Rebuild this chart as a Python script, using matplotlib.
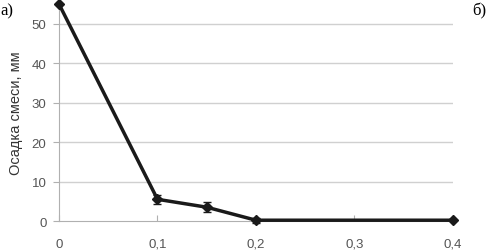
import matplotlib
matplotlib.use('Agg')
import matplotlib.pyplot as plt
from matplotlib import font_manager

# данные
x_vals = [0, 0.1, 0.15, 0.2, 0.4]
y_vals = [55, 5.5, 3.5, 0.2, 0.2]
y_err = [0, 1.2, 1.2, 0.6, 0]
x_ticks = [0, 0.1, 0.2, 0.3, 0.4]
x_tick_labels = ['0', '0,1', '0,2', '0,3', '0,4']
y_ticks = [0, 10, 20, 30, 40, 50]

# берём обычный Liberation Sans, а не Narrow
sans = 'DejaVu Sans'
for f in font_manager.fontManager.ttflist:
    if f.fname.endswith('LiberationSans-Regular.ttf'):
        font_manager.fontManager.addfont(f.fname)
        sans = f.name
        break
plt.rcParams['font.family'] = [sans, 'DejaVu Sans']

fig = plt.figure(figsize=(4.94, 2.51), dpi=100)
ax = fig.add_axes([0.1194, 0.1155, 0.7976, 0.8645])

for yt in y_ticks[1:]:
    ax.axhline(yt, color='#d0d0d0', lw=1.0, zorder=1)

ax.errorbar(x_vals, y_vals, yerr=y_err, color='#1a1a1a', lw=2.5, marker='D',
            markersize=5, ecolor='#1a1a1a', elinewidth=1, capsize=3, zorder=3,
            clip_on=False)

ax.set_xlim(0, 0.4)
ax.set_ylim(0, 55)
ax.set_xticks(x_ticks)
ax.set_xticklabels(x_tick_labels)
ax.set_yticks(y_ticks)

for s in ['top', 'right']:
    ax.spines[s].set_visible(False)
ax.spines['left'].set_color('#b0b0b0')
ax.spines['bottom'].set_color('#b0b0b0')
ax.tick_params(axis='y', colors='#b0b0b0', labelcolor='#555555', labelsize=9.5, length=4, direction='out', pad=5)
ax.tick_params(axis='x', colors='#b0b0b0', labelcolor='#555555', labelsize=9.5, length=4, direction='in', pad=12)

ax.set_ylabel('Осадка смеси, мм', fontsize=10.5, color='#333333', labelpad=6)

fig.text(0.0, 0.985, 'а)', fontsize=12, family='Liberation Serif', va='top', ha='left')
fig.text(0.955, 0.985, 'б)', fontsize=12, family='Liberation Serif', va='top', ha='left')

fig.savefig('out.png', dpi=100)
